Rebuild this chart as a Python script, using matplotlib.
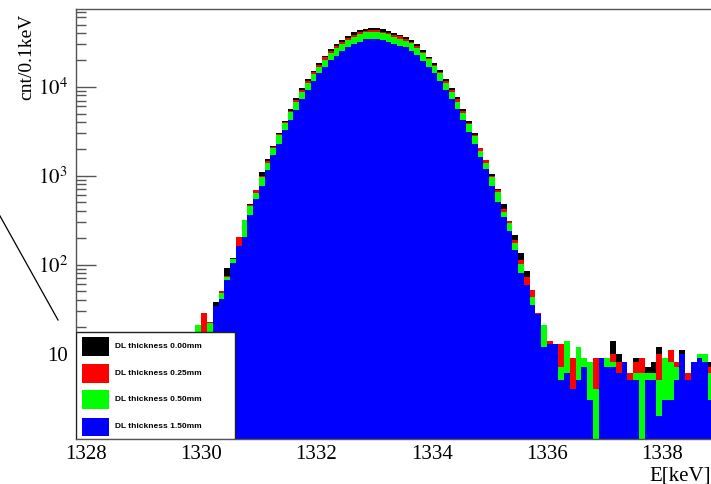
"""
Gamma line at 1333 keV for several dead-layer thicknesses (ROOT-style log histogram).
"""
import matplotlib
matplotlib.use("Agg")
import numpy as np
import matplotlib.pyplot as plt
from matplotlib.patches import Rectangle
from matplotlib.lines import Line2D
from matplotlib.ticker import FixedLocator, NullFormatter

plt.rcParams["font.family"] = ["Liberation Serif", "DejaVu Serif"]
plt.rcParams["mathtext.fontset"] = "stix"

# ── data: counts per 0.1 keV bin, first bin starts at 1329.9 keV ──────────────
bin_start = 1329.9
bin_width = 0.1

dl_000 = [10, 14, 16, 38, 45, 91, 120, 190, 322, 480,
          670, 1110, 1530, 2160, 3020, 4120, 5570, 7410, 9750, 12200,
          15000, 18300, 22300, 26300, 29900, 33500, 37100, 40900, 43300, 44500,
          45300, 45300, 44100, 42200, 39800, 38600, 36500, 33500, 29900, 25800,
          21700, 18600, 15400, 12200, 9750, 7600, 5570, 4120, 2990, 2000,
          1450, 1040, 710, 481, 290, 216, 134, 86, 40, 26,
          18, 12, 12, 10, 9, 7, 9, 8, 6, 7,
          8, 6, 14, 10, 6, 5, 9, 5, 7, 8,
          12, 7, 7, 6, 11, 4, 6, 7, 7, 8, 8]
dl_025 = [12, 29, 23, 32, 50, 75, 112, 206, 310, 470,
          690, 1000, 1450, 2110, 2930, 4000, 5400, 7050, 9300, 11600,
          14500, 17500, 21300, 25200, 28700, 31700, 35300, 38600, 41300, 42800,
          43300, 43300, 41700, 40100, 38200, 37100, 34800, 32200, 28700, 24700,
          21000, 17700, 14800, 11600, 9300, 7280, 5380, 3960, 2860, 2060,
          1500, 1000, 690, 419, 310, 190, 113, 72, 52, 29,
          15, 14, 11, 13, 8, 9, 8, 6, 7, 9,
          7, 8, 10, 8, 7, 6, 8, 9, 6, 6,
          10, 8, 11, 8, 7, 6, 7, 7, 6, 7, 6]
dl_050 = [21, 15, 22, 30, 48, 73, 115, 160, 318, 460,
          634, 960, 1380, 2030, 2870, 3880, 5240, 6780, 8790, 11100,
          13800, 16800, 19950, 23700, 27000, 29900, 33500, 36500, 39500, 40900,
          41500, 40900, 39800, 38800, 36500, 34600, 32900, 30700, 27500, 23700,
          20300, 17100, 14200, 10900, 8790, 6780, 5020, 3810, 2790, 1900,
          1390, 975, 661, 394, 292, 174, 102, 55, 43, 25,
          21, 10, 10, 7, 14, 3, 12, 9, 8, 4,
          6, 9, 8, 5, 5, 4, 6, 6, 6, 6,
          5, 9, 8, 7, 6, 4, 6, 10, 10, 6, 5]
dl_150 = [8, 12, 15, 34, 41, 67, 105, 162, 207, 362,
          547, 766, 1160, 1710, 2250, 3260, 4230, 5470, 7280, 9180,
          11600, 14200, 16800, 19950, 22300, 25200, 27700, 30200, 32000, 34100,
          34100, 34100, 33200, 31600, 29900, 28600, 27700, 25400, 22700, 19600,
          16800, 14200, 11700, 9180, 7280, 5570, 4230, 3120, 2270, 1630,
          1180, 766, 502, 346, 239, 146, 80, 59, 35, 28,
          12, 13, 13, 5, 6, 4, 5, 7, 3, 0,
          9, 7, 7, 6, 8, 5, 5, 0, 5, 5,
          2, 3, 3, 5, 10, 5, 8, 9, 8, 3, 2]

labels = ["DL thickness 0.00mm", "DL thickness 0.25mm",
          "DL thickness 0.50mm", "DL thickness 1.50mm"]
colors = ["#000000", "#ff0000", "#00ff00", "#0000ff"]

x_ticks = [1328, 1330, 1332, 1334, 1336, 1338]
y_ticks = [10, 100, 1000, 10000]
y_tick_labels = ["10", r"$10^{2}$", r"$10^{3}$", r"$10^{4}$"]

# ── figure ────────────────────────────────────────────────────────────────────
fig = plt.figure(figsize=(7.11, 4.84), dpi=100)
fig.patch.set_facecolor("white")
ax = fig.add_axes([76 / 711, 1 - 439 / 484, 635 / 711, 430 / 484])

series = [dl_000, dl_025, dl_050, dl_150]
n_bins = len(dl_000)
edges = bin_start + bin_width * np.arange(n_bins + 1)
for vals, col in zip(series, colors):
    v = np.clip(np.asarray(vals, dtype=float), 0.5, None)
    ax.stairs(v, edges, baseline=0.5, fill=True, color=col, lw=0, zorder=2)

ax.set_yscale("log")
ax.set_xlim(1327.826, 1338.85)
ax.set_ylim(1.1, 74700)

FRAME = "#555555"
for side in ["top", "left", "bottom"]:
    ax.spines[side].set_color(FRAME)
    ax.spines[side].set_linewidth(1.0)
    ax.spines[side].set_zorder(5)
ax.spines["right"].set_visible(False)

ax.xaxis.set_major_locator(FixedLocator(x_ticks))
ax.xaxis.set_minor_locator(FixedLocator([]))
ax.set_xticklabels([str(t) for t in x_ticks])
ax.yaxis.set_major_locator(FixedLocator(y_ticks))
minor = [m * 10 ** e for e in range(0, 5) for m in range(2, 10)]
ax.yaxis.set_minor_locator(FixedLocator(minor))
ax.yaxis.set_minor_formatter(NullFormatter())
ax.set_yticklabels(y_tick_labels)
ax.set_axisbelow(True)

ax.tick_params(axis="y", which="major", direction="in", length=14.5, width=1,
               color=FRAME, labelsize=15, pad=6)
ax.tick_params(axis="y", which="minor", direction="in", length=7.2, width=1,
               color=FRAME)
ax.tick_params(axis="x", which="major", direction="in", length=9, width=1,
               color=FRAME, labelsize=15, pad=4)

fig.text(27 / 711, 1 - 14 / 484, "cnt/0.1keV", rotation=90, fontsize=14,
         ha="center", va="top")
fig.text(711 / 711, 1 - 476 / 484, "E[keV]", fontsize=15, ha="right",
         va="center")

# ── legend box (drawn by hand, ROOT style) ────────────────────────────────────
ax.add_patch(Rectangle((0, 0), 0.250, 0.249, transform=ax.transAxes,
                       facecolor="white", edgecolor="#222222", lw=1.0,
                       zorder=6))
entry_y = [0.216, 0.153, 0.091, 0.028]
for yc, col, lab in zip(entry_y, colors, labels):
    ax.add_patch(Rectangle((0.0094, yc - 0.022), 0.0426, 0.044,
                           transform=ax.transAxes, facecolor=col,
                           edgecolor="none", zorder=7))
    ax.text(0.0614, yc, lab, transform=ax.transAxes, fontsize=6,
            fontweight="bold", family=["Liberation Sans", "DejaVu Sans"],
            ha="left", va="center", zorder=8)

# stray diagonal line at the left edge
fig.add_artist(Line2D([0, 58 / 711], [1 - 216 / 484, 1 - 320 / 484],
                      color="black", lw=0.9))

fig.savefig("out.png", dpi=100, facecolor="white")
